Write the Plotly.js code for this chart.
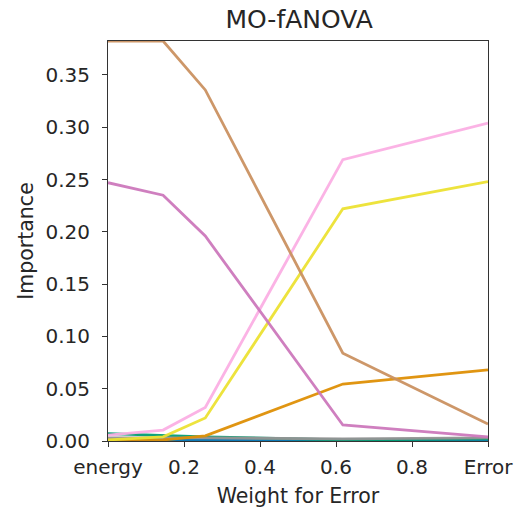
<!DOCTYPE html>
<html>
<head>
<meta charset="utf-8">
<script src="https://cdn.plot.ly/plotly-3.0.1.min.js"></script>
<style>html,body{margin:0;padding:0;background:#fff;}#chart{width:514px;height:508px;}</style>
</head>
<body>
<div id="chart"></div>
<script>
const weights = [0, 0.145, 0.256, 0.618, 1.0];
const tickVals = [0, 0.2, 0.4, 0.6, 0.8, 1.0];
const tickText = ["energy", "0.2", "0.4", "0.6", "0.8", "Error"];

const seriesBlue   = [0.001, 0.001, 0.001, 0.0005, 0.001];
const seriesGray   = [0.003, 0.003, 0.003, 0.002, 0.003];
const seriesGreen  = [0.007, 0.005, 0.004, 0.001, 0.002];
const seriesOrange = [0.0, 0.001, 0.005, 0.0545, 0.068];
const seriesYellow = [0.001, 0.004, 0.022, 0.222, 0.248];
const seriesPink   = [0.0057, 0.0105, 0.032, 0.269, 0.304];
const seriesPurple = [0.247, 0.235, 0.196, 0.0153, 0.004];
const seriesBrown  = [0.3825, 0.3825, 0.3357, 0.084, 0.0163];

const series = [
  {y: seriesBlue, color: '#0173b2'},
  {y: seriesGreen, color: '#029e73'},
  {y: seriesGray, color: '#949494'},
  {y: seriesOrange, color: '#de8f05'},
  {y: seriesYellow, color: '#ece133'},
  {y: seriesPink, color: '#fbafe4'},
  {y: seriesPurple, color: '#cc78bc'},
  {y: seriesBrown, color: '#ca9161'}
];

const traces = series.map(s => ({
  x: weights, y: s.y, type: 'scatter', mode: 'lines',
  line: {color: s.color, width: 2.8}, opacity: 0.95, showlegend: false
}));

const tickFont = {family: 'DejaVu Sans, sans-serif', size: 20, color: '#262626'};
const titleFont = {family: 'DejaVu Sans, sans-serif', size: 20.5, color: '#262626'};
const layout = {
  width: 514, height: 508,
  margin: {l: 108, r: 26, t: 41, b: 67},
  paper_bgcolor: '#fff', plot_bgcolor: '#fff',
  font: tickFont,
  showlegend: false,
  title: {text: 'MO-fANOVA', font: {family: 'DejaVu Sans, sans-serif', size: 25, color: '#262626'}, x: 0.582, xanchor: 'center', y: 0.963, yanchor: 'middle'},
  xaxis: {
    range: [0, 1], tickvals: tickVals, ticktext: tickText,
    showgrid: false, zeroline: false, showline: true, linecolor: '#333', linewidth: 1, mirror: true,
    ticks: 'outside', ticklen: 5, tickwidth: 1, tickcolor: '#333', ticklabelstandoff: 3,
    tickfont: tickFont, automargin: false,
    title: {text: 'Weight for Error', font: titleFont, standoff: 13}
  },
  yaxis: {
    range: [0, 0.3825], tickvals: [0, 0.05, 0.1, 0.15, 0.2, 0.25, 0.3, 0.35], tickformat: '.2f',
    showgrid: false, zeroline: false, showline: true, linecolor: '#333', linewidth: 1, mirror: true,
    ticks: 'outside', ticklen: 5, tickwidth: 1, tickcolor: '#333', ticklabelstandoff: 8,
    tickfont: tickFont, automargin: false,
    title: {text: 'Importance', font: titleFont, standoff: 6}
  }
};
Plotly.newPlot('chart', traces, layout, {displayModeBar: false, staticPlot: true});
</script>
</body>
</html>
